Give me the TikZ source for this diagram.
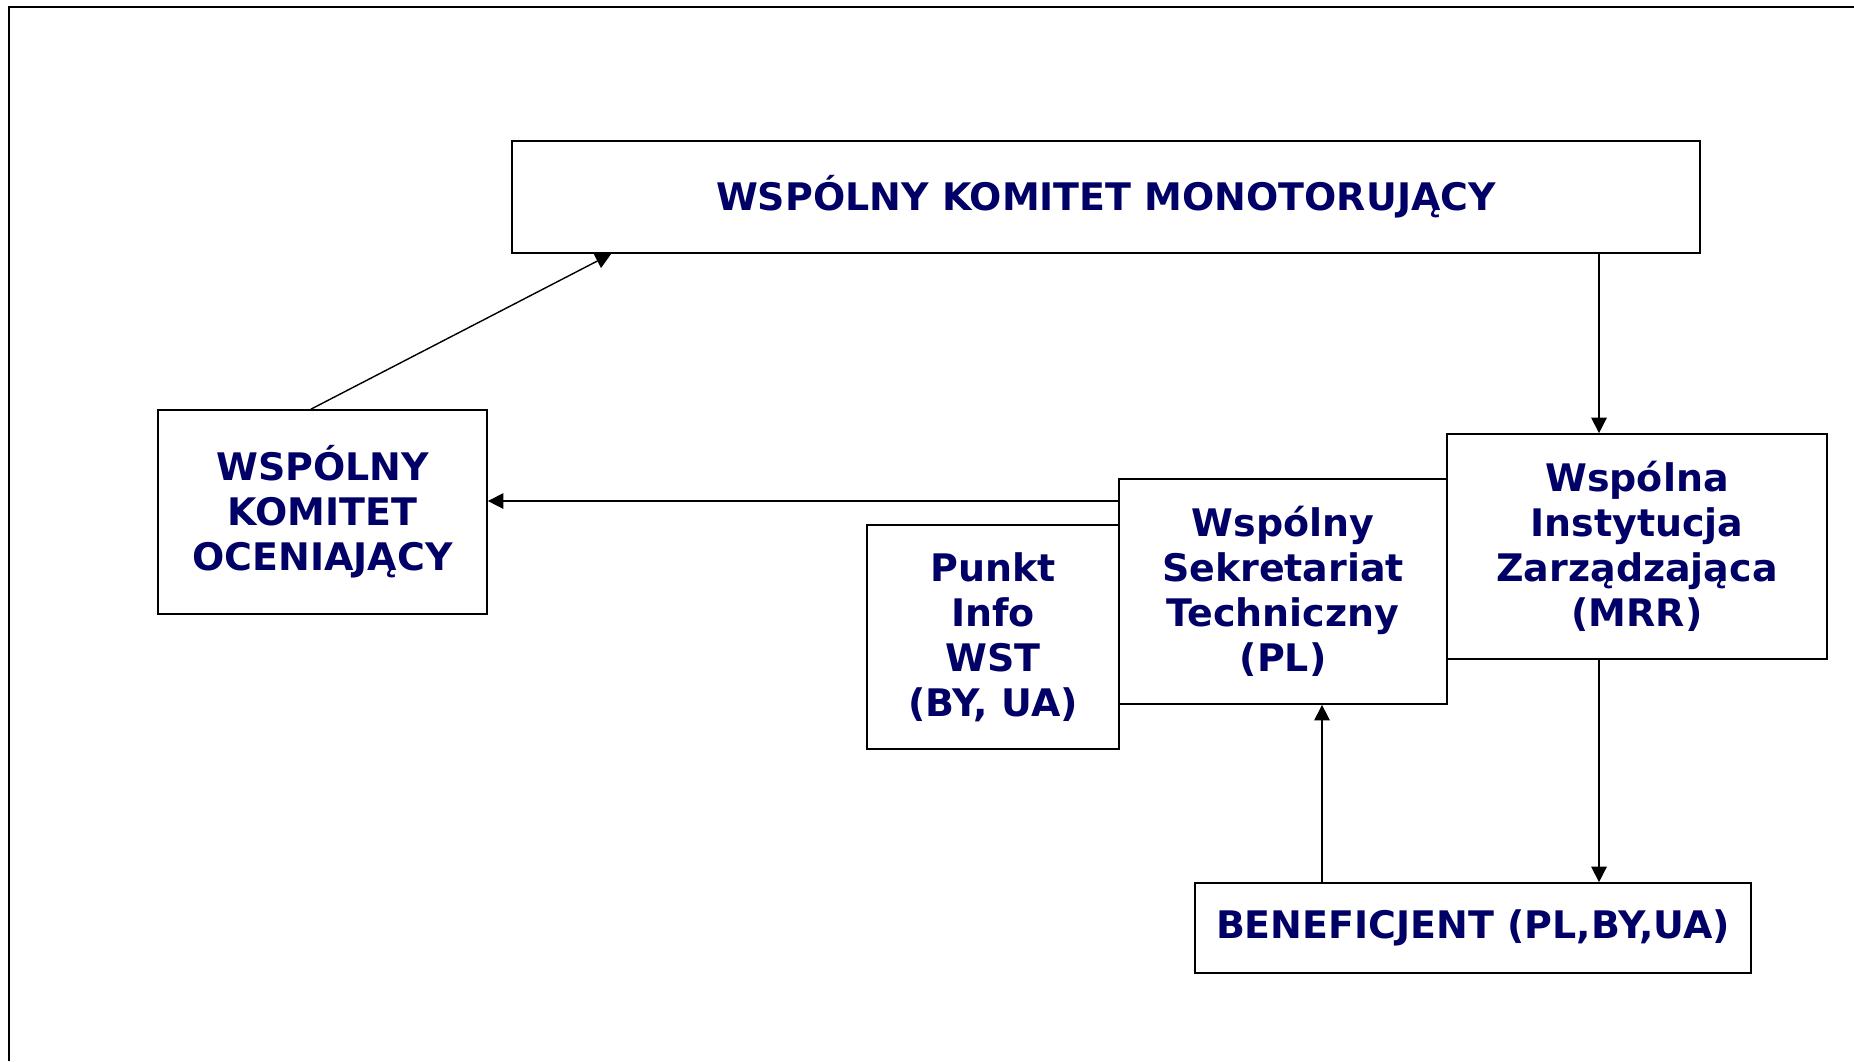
\documentclass[tikz,border=0pt]{standalone}
\usepackage{fontspec}
\setmainfont{DejaVu Sans}
\usetikzlibrary{arrows.meta}
\definecolor{navytext}{RGB}{0,0,102}

\tikzset{
    orgbox/.style={draw, line width=0.5pt, align=center, inner sep=0pt,
        font=\bfseries\fontsize{10.8}{12.8}\selectfont, text=navytext},
    flow/.style={line width=0.4pt, -{Triangle[length=4.4pt,width=4.4pt]}}
}

\begin{document}
\begin{tikzpicture}
    \useasboundingbox (0,0) rectangle (18.54,-10.61);
    \draw[line width=0.5pt] (0.09,-10.61) -- (0.09,-0.07) -- (18.54,-0.07);

    \node[orgbox, minimum width=11.88cm, minimum height=1.12cm] (wkm)
        at (11.06,-1.97) {WSPÓLNY KOMITET MONOTORUJĄCY};
    \node[orgbox, minimum width=3.29cm, minimum height=2.04cm] (wko)
        at (3.225,-5.12) {WSPÓLNY\\KOMITET\\OCENIAJĄCY};
    \node[orgbox, minimum width=2.52cm, minimum height=2.24cm] (info)
        at (9.93,-6.37) {Punkt\\Info\\WST\\(BY, UA)};
    \node[orgbox, minimum width=3.28cm, minimum height=2.25cm] (wst)
        at (12.83,-5.915) {Wspólny\\Sekretariat\\Techniczny\\(PL)};
    \node[orgbox, minimum width=3.80cm, minimum height=2.25cm] (wiz)
        at (16.37,-5.465) {Wspólna\\Instytucja\\Zarządzająca\\(MRR)};
    \node[orgbox, minimum width=5.56cm, minimum height=0.90cm] (ben)
        at (14.73,-9.28) {BENEFICJENT (PL,BY,UA)};

    \coordinate (wizin) at ([xshift=-0.38cm]wiz.north);
    \coordinate (wstin) at ([xshift=0.39cm]wst.south);
    \coordinate (wstout) at ([yshift=0.905cm]wst.west);
    \coordinate (wkoout) at ([xshift=-0.115cm]wko.north);
    \coordinate (wkmin) at ([xshift=1.0cm]wkm.south west);

    \draw[flow] (wkoout) -- (wkmin);
    \draw[flow] (wkm.south -| wizin) -- (wizin);
    \draw[flow] (wiz.south -| wizin) -- (ben.north -| wizin);
    \draw[flow] (ben.north -| wstin) -- (wstin);
    \draw[flow] (wstout) -- (wko.east |- wstout);
\end{tikzpicture}
\end{document}
